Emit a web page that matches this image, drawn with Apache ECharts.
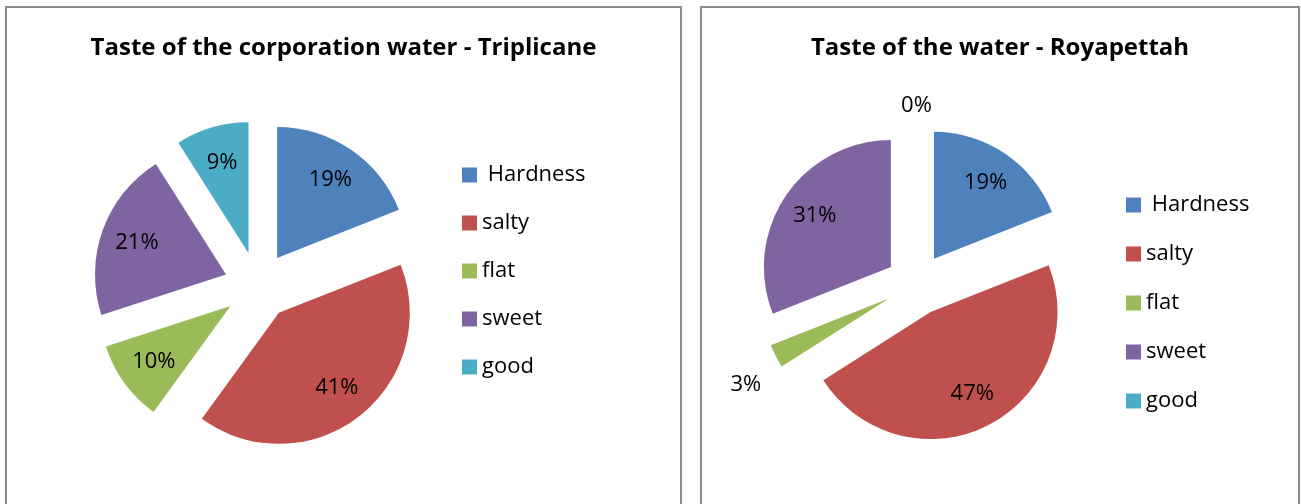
<!DOCTYPE html>
<html>
<head>
<meta charset="utf-8">
<script src="https://cdn.jsdelivr.net/npm/echarts@6/dist/echarts.min.js"></script>
<style>
  html, body { margin: 0; padding: 0; background: #fff; }
  body { width: 1301px; height: 504px; position: relative; overflow: hidden; }
  .panel { position: absolute; top: 6px; height: 520px; border: 2px solid #8c8c8c; box-sizing: border-box; background: #fff; }
  .panel > div { width: 100%; height: 100%; }
</style>
</head>
<body>
<div class="panel" style="left:5px;width:677px"><div id="left"></div></div>
<div class="panel" style="left:700px;width:600px"><div id="right"></div></div>
<script>
// data
const categories = [' Hardness', 'salty', 'flat', 'sweet', 'good']
const colors = ['#4F81BD', '#C0504D', '#9BBB59', '#8064A2', '#4BACC6']
const triplicaneValues = [19, 41, 10, 21, 9]
const royapettahValues = [19, 47, 3, 31, 0]
const titles = ['Taste of the corporation water - Triplicane', 'Taste of the water - Royapettah']

const FONT = '"Open Sans", sans-serif'

// small slices get their label outside the pie
function isOutside (v) { return v < 5 }

function buildOption (title, values, g) {
  const common = {
    type: 'pie',
    center: g.center,
    startAngle: 90,
    clockwise: true,
    selectedMode: 'multiple',
    selectedOffset: g.offset,
    silent: true,
    animation: false,
    avoidLabelOverlap: false,
    percentPrecision: 0,
    emphasis: { disabled: true },
    select: { itemStyle: { borderWidth: 0 } },
    labelLine: { show: false }
  }
  const labelStyle = { position: 'inside', formatter: '{d}%', fontFamily: FONT, fontSize: 22, lineHeight: 26, color: '#000' }

  // pie itself
  const pie = Object.assign({}, common, {
    radius: [0, g.r],
    label: { show: false },
    itemStyle: { borderWidth: 0 },
    data: categories.map((name, i) => ({
      name, value: values[i], selected: true, itemStyle: { color: colors[i] }
    }))
  })

  // invisible rings, only used to place the percentage labels
  // (outside labels sit a bit lower, like excel does)
  const labelRing = (r0, r1, outside) => Object.assign({}, common, {
    radius: [r0, r1],
    itemStyle: { color: 'transparent', borderWidth: 0 },
    label: Object.assign({}, labelStyle, outside ? { formatter: '\n{d}%' } : {}),
    data: categories.map((name, i) => ({
      name, value: values[i], selected: true,
      label: { show: isOutside(values[i]) === outside }
    }))
  })

  return {
    animation: false,
    title: {
      text: title,
      left: 'center',
      top: g.titleTop,
      textStyle: { fontFamily: FONT, fontSize: 24, fontWeight: 'bold', color: '#000', lineHeight: 26 }
    },
    legend: {
      data: categories,
      orient: 'vertical',
      left: g.legendLeft,
      top: g.legendTop,
      icon: 'rect',
      itemWidth: 15,
      itemHeight: 15,
      itemGap: g.legendGap,
      selectedMode: false,
      textStyle: { fontFamily: FONT, fontSize: 22, lineHeight: 22, color: '#000' }
    },
    series: [
      pie,
      labelRing(g.r * 0.4, g.r, false),
      labelRing(g.r * 1.14, g.r * 1.34, true)
    ]
  }
}

const leftChart = echarts.init(document.getElementById('left'))
leftChart.setOption(buildOption(titles[0], triplicaneValues, {
  center: [251, 278], r: 131, offset: 34,
  titleTop: 22, legendLeft: 450, legendTop: 151, legendGap: 26
}))

const rightChart = echarts.init(document.getElementById('right'))
rightChart.setOption(buildOption(titles[1], royapettahValues, {
  center: [214.5, 276.5], r: 127, offset: 31,
  titleTop: 22, legendLeft: 419, legendTop: 181, legendGap: 27
}))
</script>
</body>
</html>
